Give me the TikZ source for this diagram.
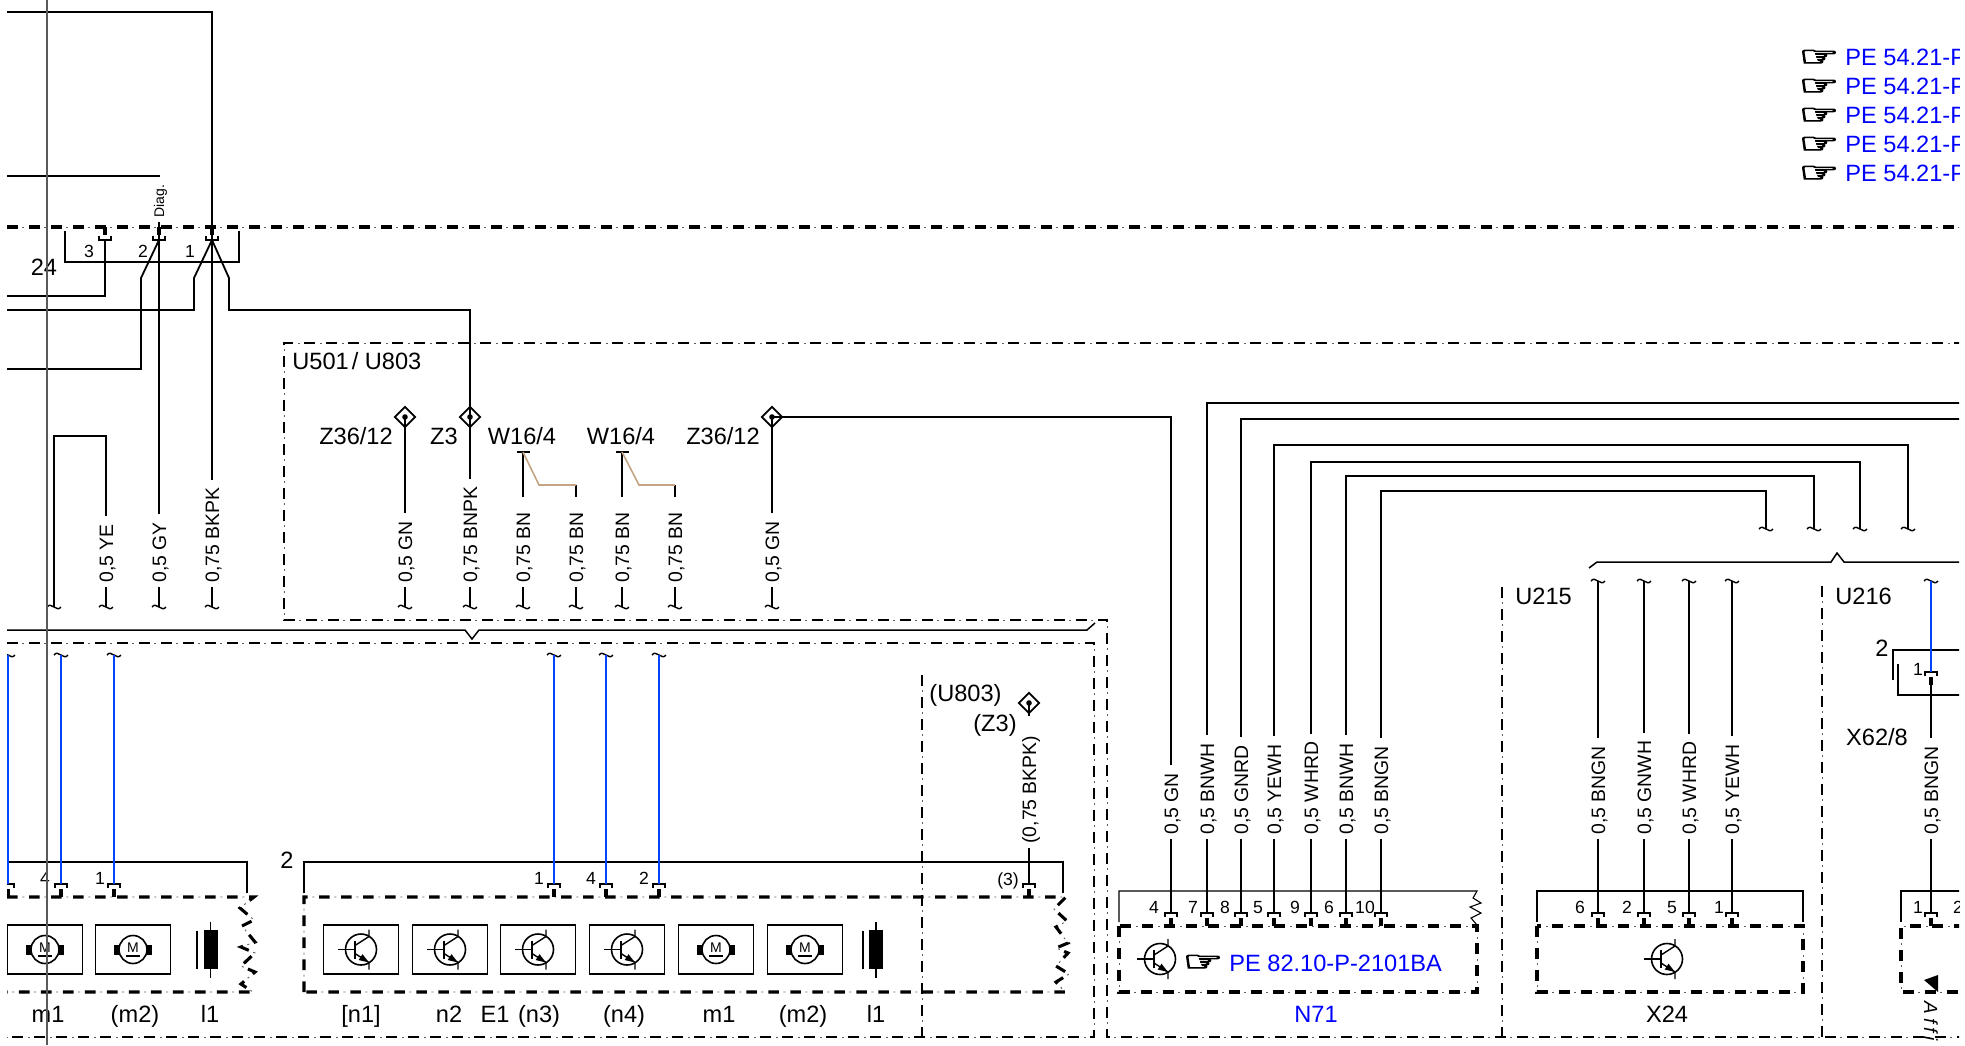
\documentclass[tikz,border=0pt]{standalone}
\usepackage{fontspec}
\setmainfont{Liberation Sans}
\newfontfamily\handfont[FakeBold=3.5]{DejaVu Sans}
\usepackage{graphicx}
\usepackage{xcolor}
\usetikzlibrary{calc,shapes.geometric}
\definecolor{wireblue}{RGB}{0,68,255}
\definecolor{textblue}{RGB}{0,0,255}
\definecolor{wiretan}{RGB}{196,164,132}
\definecolor{rulegrey}{RGB}{90,90,90}
\definecolor{dotgrey}{RGB}{95,95,95}
\tikzset{
    dashline/.style={line width=1.55pt, dash pattern=on 5.3pt off 5.7pt,
        postaction={draw=dotgrey, line width=.45pt, dash pattern=on 1pt off 10pt, dash phase=3.3pt}},
    dashlight/.style={line width=1.35pt, dash pattern=on 5.3pt off 5.7pt,
        postaction={draw=dotgrey, line width=.45pt, dash pattern=on 1pt off 10pt, dash phase=3.3pt}},
    wire/.style={line width=.9pt},
    bluewire/.style={line width=.9pt, draw=wireblue},
    tanwire/.style={line width=.8pt, draw=wiretan},
    frameline/.style={line width=.55pt},
    busline/.style={line width=.75pt},
    wirelabel/.style={rotate=90, anchor=west, fill=white, inner xsep=2pt, inner ysep=0pt,
        text height=9pt, text depth=2pt, font=\fontsize{9.7}{11}\selectfont,
        execute at end node={\hspace{2pt}}},
    biglabel/.style={font=\fontsize{11.8}{13}\selectfont, inner sep=0pt, anchor=base},
    pinlabel/.style={font=\fontsize{8.8}{10}\selectfont, inner sep=0pt, anchor=base},
    pelabel/.style={font=\fontsize{11.8}{13}\selectfont, text=textblue, inner sep=0pt, anchor=west},
    handmark/.style={font=\handfont\fontsize{14}{15}\selectfont, inner sep=0pt},
    devbox/.style={draw, line width=.6pt, minimum width=37.8pt, minimum height=24.5pt, inner sep=0pt},
    zdiamond/.style={draw, diamond, line width=.9pt, fill=white, inner sep=0pt, minimum size=10.5pt},
    tbar/.style={fill=black, inner sep=0pt, minimum width=6.5pt, minimum height=1.2pt},
    tildemark/.pic={\draw[line width=.7pt] (-7,0) .. controls (-3,-6) and (3,6) .. (7,0);},
    plug/.pic={
        \draw[line width=.65pt] (-6,4) -- (-6,0) -- (6,0) -- (6,4);
        \draw[line width=2pt] (0,5) -- (0,13);
    },
    motor/.pic={
        \draw[line width=.8pt] (0,0) circle (14);
        \fill (-19,-5) rectangle (-14,5);
        \fill (14,-5) rectangle (19,5);
        \draw[line width=.8pt] (-7,6.5) -- (7,6.5);
        \node[font=\fontsize{7}{8}\selectfont, inner sep=0pt] (-m) at (0,-2) {M};
    },
    transistor/.pic={
        \draw[line width=.8pt] (0,0) circle (15.5);
        \draw[line width=.6pt] (-23,0) -- (-6,0);
        \draw[line width=.9pt] (-6,-9) -- (-6,9);
        \draw[line width=.7pt] (-6,-4) -- (8,-13) -- (8,-20);
        \draw[line width=.7pt] (-6,4) -- (8,13) -- (8,20);
        \fill (8,13) -- (-2.3,10.5) -- (1.5,4.7) -- cycle;
    },
    coil/.pic={
        \fill (-7,-19.5) rectangle (7,19.5);
        \draw[line width=.6pt] (0,-28) -- (0,28);
        \draw[line width=1pt] (-13.5,-19) -- (-13.5,19);
    }
}

\begin{document}
\begin{tikzpicture}[x=.5pt, y=-.5pt]
    \useasboundingbox (0,0) rectangle (1965,1045);
    \clip (7,0) rectangle (1959,1045);

    \draw[dashline] (7,227) -- (1965,227);
    \draw[dashlight] (1965,343) -| (284,620) -| (1107,1037) -- (1965,1037);
    \draw[dashlight] (7,643) -| (1094,1037) -- (7,1037);
    \draw[dashlight] (922,675) -- (922,1037);
    \draw[dashlight] (1502,587) -- (1502,1037);
    \draw[dashlight] (1822,586) -- (1822,1037);

    \draw[dashline] (7,897) -- (254,897) -- (240,908) -- (254,920) -- (242,926) -- (255,942) -- (241,947)
        -- (255,953) -- (241,966) -- (255,972) -- (241,984) -- (253,992) -- (7,992);
    \draw[dashline] (304,992) -- (304,897) -- (1066,897) -- (1054,909) -- (1067,921) -- (1056,927)
        -- (1068,943) -- (1056,948) -- (1068,953) -- (1056,966) -- (1069,974) -- (1056,982) -- (1065,992) -- (304,992);
    \draw[dashline] (1119,926) rectangle (1477,992);
    \draw[dashline] (1537,926) rectangle (1803,992);
    \draw[dashline] (1965,926) -| (1901,992) -- (1965,992);

    \draw[frameline] (65,231) -- (65,262) -| (239,231);
    \draw[frameline] (7,862) -| (247,893);
    \draw[frameline] (304,893) -- (304,862) -| (1063,893);
    \draw[frameline] (1119,922) -- (1119,891) -- (1477,891) -- (1473,898) -- (1481,903) -- (1470,907)
        -- (1481,913) -- (1471,918) -- (1477,925);
    \draw[frameline] (1537,922) -- (1537,891) -| (1803,922);
    \draw[frameline] (1901,922) -- (1901,891) -- (1965,891);
    \draw[frameline] (1893,680) -- (1893,650) -- (1965,650);
    \draw[frameline] (1898,664) -- (1898,695) -- (1965,695);

    \draw[busline] (7,630) -- (465,630) -- (472,639) -- (479,630) -- (1087,630) -- (1095,623);
    \draw[busline] (1589,568) -- (1597,562) -- (1831,562) -- (1837,553) -- (1844,562) -- (1965,562);

    \node[devbox] (da) at (45,949.5) {};
    \node[devbox] (db) at (133,949.5) {};
    \node[devbox] (dc) at (361,949.5) {};
    \node[devbox] (dd) at (450,949.5) {};
    \node[devbox] (de) at (538,949.5) {};
    \node[devbox] (df) at (627,949.5) {};
    \node[devbox] (dg) at (716,949.5) {};
    \node[devbox] (dh) at (805,949.5) {};
    \pic (ma) at (da) {motor};
    \pic (mb) at (db) {motor};
    \pic at (dc) {transistor};
    \pic at (dd) {transistor};
    \pic at (de) {transistor};
    \pic at (df) {transistor};
    \pic (mc) at (dg) {motor};
    \pic (md) at (dh) {motor};
    \pic at (210.5,949.5) {coil};
    \pic at (876,949.5) {coil};
    \pic at (1160,959) {transistor};
    \pic at (1667,959) {transistor};
    \fill (1924,980) -- (1938,975) -- (1938,992) -- cycle;

    \node[zdiamond] (zl) at (405,417) {};
    \node[zdiamond] (zm) at (470,417) {};
    \node[zdiamond] (zr) at (772,417) {};
    \node[zdiamond] (zu) at (1029,703) {};
    \node[tbar] (wa) at (523,452) {};
    \node[tbar] (wb) at (622,452) {};

    \path (105,240) coordinate (pb3) pic[yscale=-1] {plug};
    \path (159,240) coordinate (pb2) pic[yscale=-1] {plug};
    \path (212,240) coordinate (pb1) pic[yscale=-1] {plug};

    \path (8,884) coordinate (pl0) pic {plug};
    \path (61,884) coordinate (pl4) pic {plug};
    \path (114,884) coordinate (pl1) pic {plug};
    \path (554,884) coordinate (pn1) pic {plug};
    \path (606,884) coordinate (pn4) pic {plug};
    \path (659,884) coordinate (pn2) pic {plug};
    \path (1029,884) coordinate (pn3) pic {plug};

    \path (1171,913) coordinate (pe4) pic {plug};
    \path (1207,913) coordinate (pe7) pic {plug};
    \path (1241,913) coordinate (pe8) pic {plug};
    \path (1274,913) coordinate (pe5) pic {plug};
    \path (1311,913) coordinate (pe9) pic {plug};
    \path (1346,913) coordinate (pe6) pic {plug};
    \path (1381,913) coordinate (pe0) pic {plug};
    \path (1598,913) coordinate (px6) pic {plug};
    \path (1644,913) coordinate (px2) pic {plug};
    \path (1689,913) coordinate (px5) pic {plug};
    \path (1732,913) coordinate (px1) pic {plug};
    \path (1931,913) coordinate (py1) pic {plug};
    \path (1931,672) coordinate (pz1) pic {plug};

    \path (54,607) coordinate (ta) pic {tildemark};
    \path (106,607) coordinate (tb) pic {tildemark};
    \path (159,607) coordinate (tc) pic {tildemark};
    \path (212,607) coordinate (td) pic {tildemark};
    \path (405,607) coordinate (te) pic {tildemark};
    \path (470,607) coordinate (tf) pic {tildemark};
    \path (523,607) coordinate (tg) pic {tildemark};
    \path (576,607) coordinate (th) pic {tildemark};
    \path (622,607) coordinate (ti) pic {tildemark};
    \path (675,607) coordinate (tj) pic {tildemark};
    \path (772,607) coordinate (tk) pic {tildemark};
    \path (8,655) coordinate (sa) pic {tildemark};
    \path (61,655) coordinate (sb) pic {tildemark};
    \path (114,655) coordinate (sc) pic {tildemark};
    \path (554,655) coordinate (sd) pic {tildemark};
    \path (606,655) coordinate (se) pic {tildemark};
    \path (659,655) coordinate (sf) pic {tildemark};
    \path (1766,529) coordinate (ua) pic {tildemark};
    \path (1814,529) coordinate (ub) pic {tildemark};
    \path (1860,529) coordinate (uc) pic {tildemark};
    \path (1908,529) coordinate (ud) pic {tildemark};
    \path (1598,581) coordinate (va) pic {tildemark};
    \path (1644,581) coordinate (vb) pic {tildemark};
    \path (1689,581) coordinate (vc) pic {tildemark};
    \path (1732,581) coordinate (vd) pic {tildemark};
    \path (1931,581) coordinate (ve) pic {tildemark};

    \coordinate (ea) at (7,12);
    \coordinate (eb) at (7,176);
    \coordinate (ec) at (7,296);
    \coordinate (ed) at (7,310);
    \coordinate (ef) at (7,369);
    \coordinate (eg) at (1965,403);
    \coordinate (eh) at (1965,418.6);
    \coordinate (cw) at (576,485);
    \coordinate (cx) at (675,485);

    \draw[wire] (ea) -| (pb1);
    \draw[wire] (eb) -| (pb2);
    \draw[wire] (pb3) |- (ec);
    \draw[wire] (pb2) -- (141,278) |- (ef);
    \draw[wire] (pb1) -- (194,278) |- (ed);
    \draw[wire] (pb1) -- (229,278) -- (229,310) -| (tf);
    \draw[wire] (pb2) -- (tc);
    \draw[wire] (pb1) -- (td);
    \draw[wire] (ta) -- (54,436) -| (tb);
    \draw[wire] (zl.center) -- (te);
    \draw[wire] (wa.center) -- (tg);
    \draw[wire] (wb.center) -- (ti);
    \draw[wire] (cw) -- (th);
    \draw[wire] (cx) -- (tj);
    \draw[tanwire] (wa.center) -- (539,485) -- (cw);
    \draw[tanwire] (wb.center) -- (639,485) -- (cx);
    \draw[wire] (zr.center) -- (tk);
    \draw[wire] (zr.center) -| (pe4);
    \draw[wire] (eg) -| (pe7);
    \draw[wire] (eh) -| (pe8);
    \draw[wire] (pe5) |- (1908,445) -- (ud);
    \draw[wire] (pe9) |- (1860,462) -- (uc);
    \draw[wire] (pe6) |- (1814,476) -- (ub);
    \draw[wire] (pe0) |- (1766,491) -- (ua);
    \draw[wire] (zu.center) -- (pn3);
    \draw[wire] (va) -- (px6);
    \draw[wire] (vb) -- (px2);
    \draw[wire] (vc) -- (px5);
    \draw[wire] (vd) -- (px1);
    \draw[wire] (pz1) ++(0,13) -- (py1);
    \draw[bluewire] (ve) -- (pz1);
    \draw[bluewire] (sa) -- (pl0);
    \draw[bluewire] (sb) -- (pl4);
    \draw[bluewire] (sc) -- (pl1);
    \draw[bluewire] (sd) -- (pn1);
    \draw[bluewire] (se) -- (pn4);
    \draw[bluewire] (sf) -- (pn2);

    \fill (zl.center) circle (2.8);
    \fill (zm.center) circle (2.8);
    \fill (zr.center) circle (2.8);
    \fill (zu.center) circle (2.8);

    \node[wirelabel, font=\fontsize{7}{8}\selectfont, text height=6.5pt, text depth=1.5pt] (ldg) at (159,222) {Diag.};
    \node[wirelabel] (lb) at (106,587) {0,5 YE};
    \node[wirelabel] (lc) at (159,587) {0,5 GY};
    \node[wirelabel] (ld) at (212,587) {0,75 BKPK};
    \node[wirelabel] (le) at (405,587) {0,5 GN};
    \node[wirelabel] (lf) at (470,587) {0,75 BNPK};
    \node[wirelabel, execute at end node={\hspace{4pt}}] (lg) at (523,587) {0,75 BN};
    \node[wirelabel, execute at end node={\hspace{4pt}}] (lh) at (576,587) {0,75 BN};
    \node[wirelabel, execute at end node={\hspace{4pt}}] (li) at (622,587) {0,75 BN};
    \node[wirelabel, execute at end node={\hspace{4pt}}] (lj) at (675,587) {0,75 BN};
    \node[wirelabel] (lk) at (772,587) {0,5 GN};
    \node[wirelabel, execute at end node={\hspace{6pt}}] (lu) at (1029,848) {(0,75 BKPK)};
    \node[wirelabel] (n4) at (1171,839) {0,5 GN};
    \node[wirelabel] (n7) at (1207,839) {0,5 BNWH};
    \node[wirelabel] (n8) at (1241,839) {0,5 GNRD};
    \node[wirelabel] (n5) at (1274,839) {0,5 YEWH};
    \node[wirelabel] (n9) at (1311,839) {0,5 WHRD};
    \node[wirelabel] (n6) at (1346,839) {0,5 BNWH};
    \node[wirelabel] (n0) at (1381,839) {0,5 BNGN};
    \node[wirelabel] (x6) at (1598,839) {0,5 BNGN};
    \node[wirelabel] (x2) at (1644,839) {0,5 GNWH};
    \node[wirelabel] (x5) at (1689,839) {0,5 WHRD};
    \node[wirelabel] (x1) at (1732,839) {0,5 YEWH};
    \node[wirelabel] (y1) at (1931,839) {0,5 BNGN};

    \node[biglabel] (t24) at (44,275) {24};
    \node[biglabel, anchor=base west] (tua) at (292,369) {U501\kern1.5pt/ U803};
    \node[biglabel] (tza) at (356,444) {Z36/12};
    \node[biglabel] (tzb) at (444,444) {Z3};
    \node[biglabel] (twa) at (522,444) {W16/4};
    \node[biglabel] (twb) at (621,444) {W16/4};
    \node[biglabel] (tzc) at (723,444) {Z36/12};
    \node[biglabel, anchor=base west] (tub) at (929,701) {(U803)};
    \node[biglabel, anchor=base east] (tzd) at (1017,731) {(Z3)};
    \node[biglabel, anchor=base west] (tuc) at (1515,604) {U215};
    \node[biglabel, anchor=base west] (tud) at (1835,604) {U216};
    \node[biglabel] (txa) at (1877,745) {X62/8};
    \node[biglabel] (tta) at (1882,656) {2};
    \node[biglabel] (ttb) at (287,868) {2};

    \node[biglabel] (rma) at (48,1022) {m1};
    \node[biglabel] (rmb) at (135,1022) {(m2)};
    \node[biglabel] (ria) at (210,1022) {l1};
    \node[biglabel] (rna) at (361,1022) {[n1]};
    \node[biglabel] (rnb) at (449,1022) {n2};
    \node[biglabel] (rea) at (495,1022) {E1};
    \node[biglabel] (rnc) at (539,1022) {(n3)};
    \node[biglabel] (rnd) at (624,1022) {(n4)};
    \node[biglabel] (rmc) at (719,1022) {m1};
    \node[biglabel] (rmd) at (803,1022) {(m2)};
    \node[biglabel] (rib) at (876,1022) {l1};
    \node[biglabel, text=textblue] (rnv) at (1316,1022) {N71};
    \node[biglabel] (rxa) at (1667,1022) {X24};
    \node[rotate=-90, anchor=west, inner sep=0pt, font=\fontsize{9.5}{10}\selectfont\itshape] (raf) at (1931,1001) {A\kern2pt f\kern2pt f\kern2pt i};

    \node[pinlabel] (qa) at (89,257) {3};
    \node[pinlabel] (qb) at (143,257) {2};
    \node[pinlabel] (qc) at (190,257) {1};
    \node[pinlabel] (qd) at (45,884) {4};
    \node[pinlabel] (qe) at (100,884) {1};
    \node[pinlabel] (qf) at (539,884) {1};
    \node[pinlabel] (qg) at (591,884) {4};
    \node[pinlabel] (qh) at (644,884) {2};
    \node[pinlabel] (qi) at (1008,885) {(3)};
    \node[pinlabel] (qj) at (1154,913) {4};
    \node[pinlabel] (qk) at (1193,913) {7};
    \node[pinlabel] (ql) at (1225,913) {8};
    \node[pinlabel] (qm) at (1258,913) {5};
    \node[pinlabel] (qn) at (1295,913) {9};
    \node[pinlabel] (qo) at (1329,913) {6};
    \node[pinlabel] (qp) at (1365,913) {10};
    \node[pinlabel] (qq) at (1580,913) {6};
    \node[pinlabel] (qr) at (1627,913) {2};
    \node[pinlabel] (qs) at (1672,913) {5};
    \node[pinlabel] (qt) at (1719,913) {1};
    \node[pinlabel] (qu) at (1918,913) {1};
    \node[pinlabel] (qv) at (1958,913) {2};
    \node[pinlabel] (qw) at (1918,675) {1};

    \node[handmark] (hn) at (1203,963) {\scalebox{1.6}[1]{☞}};
    \node[pelabel] (pn) at (1229,963) {PE 82.10-P-2101BA};
    \node[handmark] (ha) at (1819,58) {\scalebox{1.6}[1]{☞}};
    \node[handmark] (hb) at (1819,87) {\scalebox{1.6}[1]{☞}};
    \node[handmark] (hc) at (1819,116) {\scalebox{1.6}[1]{☞}};
    \node[handmark] (hd) at (1819,145) {\scalebox{1.6}[1]{☞}};
    \node[handmark] (he) at (1819,174) {\scalebox{1.6}[1]{☞}};
    \node[pelabel] (pa) at (1845,57) {PE 54.21-P};
    \node[pelabel] (pb) at (1845,86) {PE 54.21-P};
    \node[pelabel] (pc) at (1845,115) {PE 54.21-P};
    \node[pelabel] (pd) at (1845,144) {PE 54.21-P};
    \node[pelabel] (pf) at (1845,173) {PE 54.21-P};

    \coordinate (ga) at (47,0);
    \coordinate (gb) at (47,1045);
    \draw[line width=.8pt, draw=rulegrey] (ga) -- (gb);
\end{tikzpicture}
\end{document}
